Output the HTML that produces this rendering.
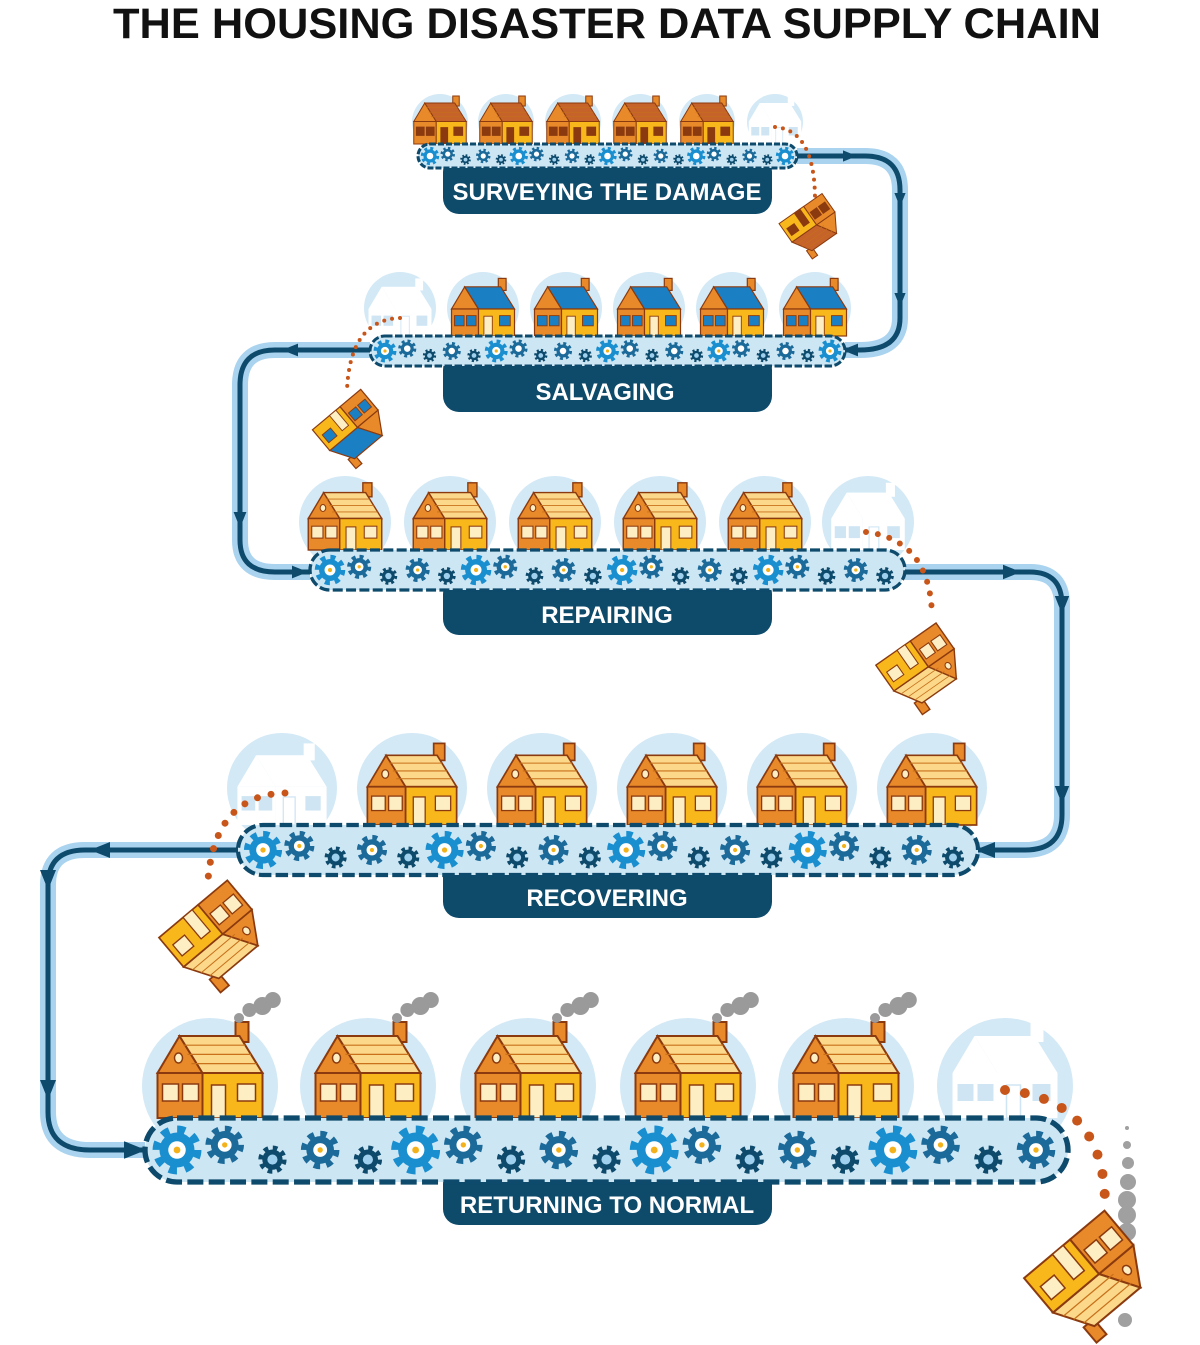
<!DOCTYPE html>
<html><head><meta charset="utf-8">
<style>
html,body{margin:0;padding:0;background:#fff;}
body{width:1200px;height:1345px;overflow:hidden;position:relative;}
svg{position:absolute;left:0;top:0;}
.t{font-family:"Liberation Sans",sans-serif;font-weight:bold;}
</style></head>
<body>
<svg id="s" width="1200" height="1345" viewBox="0 0 1200 1345" xmlns="http://www.w3.org/2000/svg">
<g id="pipes" fill="none"></g>
<g id="circ"></g>
<g id="houses"></g>
<g id="belts"></g>
<g id="dots"></g>
<g id="fall"></g>
<text class="t" x="607" y="38" font-size="43" text-anchor="middle" textLength="988" lengthAdjust="spacingAndGlyphs" fill="#111">THE HOUSING DISASTER DATA SUPPLY CHAIN</text>
<g id="labels"></g>
<g class="t" fill="#fff" text-anchor="middle">
<text x="607" y="200" font-size="24">SURVEYING THE DAMAGE</text>
<text x="605" y="400" font-size="24">SALVAGING</text>
<text x="607" y="623" font-size="24">REPAIRING</text>
<text x="607" y="906" font-size="24">RECOVERING</text>
<text x="607" y="1213" font-size="24">RETURNING TO NORMAL</text>
</g>
</svg>
<script>
const NS="http://www.w3.org/2000/svg";
function el(p,tag,a){const e=document.createElementNS(NS,tag);for(const k in a)e.setAttribute(k,a[k]);document.getElementById(p)?document.getElementById(p).appendChild(e):p.appendChild(e);return e;}
const DK="#0d4a6b",LB="#cde6f4",CB="#d3e9f6";
// pipes
const paths=[
"M797,156 H865 Q900,156 900,190 V318 Q900,350 860,350 H845",
"M370,350 H275 Q240,350 240,385 V540 Q240,572 275,572 H310",
"M905,572 H1030 Q1062,572 1062,605 V815 Q1062,850 1025,850 H978",
"M238,850 H85 Q48,850 48,885 V1112 Q48,1150 90,1150 H145"];
paths.forEach(d=>{el("pipes","path",{d,stroke:"#a9d3ee","stroke-width":16,"stroke-linejoin":"round"});
el("pipes","path",{d,stroke:DK,"stroke-width":5});});
// arrows
function arrow(x,y,ang,sz){const g=el("pipes","g",{transform:`translate(${x},${y}) rotate(${ang})`});el(g,"polygon",{points:`${sz},0 ${-sz},${-sz*0.8} ${-sz},${sz*0.8}`,fill:DK});}
arrow(850,156,0,7);arrow(900,200,90,7);arrow(900,300,90,7);arrow(850,350,180,8);
arrow(290,350,180,8);arrow(240,520,90,8);arrow(300,572,0,8);
arrow(1012,572,0,9);arrow(1062,605,90,9);arrow(1062,795,90,9);arrow(985,850,180,10);
arrow(100,850,180,10);arrow(48,880,90,10);arrow(48,1090,90,10);arrow(135,1150,0,11);
// rows
const rows=[
{bx:418,bw:379,by:144,bh:24,cy:122,r:28,xs:[440,506,573,640,707,775],s:0.5,ghost:5,roof:"#c5632a",type:1,lx:443,lw:329,ly:168,lh:46},
{bx:370,bw:475,by:336,bh:30,cy:308,r:36,xs:[400,483,566,649,732,815],s:0.6,ghost:0,roof:"#1b7fc4",type:2,lx:443,lw:329,ly:366,lh:46},
{bx:310,bw:595,by:550,bh:40,cy:522,r:46,xs:[345,450,555,660,765,868],s:0.7,ghost:5,roof:"#fbd88a",type:3,lx:443,lw:329,ly:590,lh:45},
{bx:238,bw:740,by:825,bh:50,cy:788,r:55,xs:[282,412,542,672,802,932],s:0.85,ghost:0,roof:"#fbd88a",type:3,lx:443,lw:329,ly:872,lh:46},
{bx:145,bw:923,by:1118,bh:64,cy:1086,r:68,xs:[210,368,528,688,846,1005],s:1,ghost:5,roof:"#fbd88a",type:4,lx:443,lw:329,ly:1180,lh:45}];
function house(parent,x,base,s,roof,type,ghost){
 const g=el(parent,"g",{transform:`translate(${x-52.5*s},${base}) scale(${s})`});
 const st=ghost?"none":"#8b3a0f",sw=2;
 const O=ghost?"#fff":"#e8892a",Y=ghost?"#fff":"#f8b81c",R=ghost?"#fff":roof;
 el(g,"rect",{x:78,y:-96,width:13,height:20,fill:ghost?"#fff":"#e8892a",stroke:st,"stroke-width":sw});
 el(g,"polygon",{points:"0,-45 22,-82 45,-45",fill:O,stroke:st,"stroke-width":sw});
 el(g,"polygon",{points:"22,-82 82,-82 105,-45 45,-45",fill:R,stroke:st,"stroke-width":sw});
 if(!ghost&&type!==2)for(let i=1;i<4;i++)el(g,"line",{x1:22+i*4,y1:-82+i*9.2,x2:82+i*5.7,y2:-82+i*9.2,stroke:"#c8701a","stroke-width":1.2});
 el(g,"rect",{x:0,y:-45,width:45,height:45,fill:O,stroke:st,"stroke-width":sw});
 el(g,"rect",{x:45,y:-45,width:60,height:45,fill:Y,stroke:st,"stroke-width":sw});
 const W=ghost?"#cfe5f3":(type===1?"#8b3a0f":type===2?"#1b7fc4":"#fdeec4");
 const ws=[[5,-34,16,17],[25,-34,16,17],[80,-34,18,17]];
 ws.forEach(w=>el(g,"rect",{x:w[0],y:w[1],width:w[2],height:w[3],fill:W,stroke:st,"stroke-width":1.5}));
 if(!ghost||true)el(g,"rect",{x:54,y:-33,width:14,height:33,fill:ghost?"#fff":(type===1?"#8b3a0f":"#fdeec4"),stroke:ghost?"#cfe5f3":st,"stroke-width":1.5});
 if(type>=3&&!ghost)el(g,"ellipse",{cx:21,cy:-60,rx:4,ry:5,fill:"#fdeec4",stroke:st,"stroke-width":1.5});
 return g;
}
function gear(p,x,y,r,c,inner){
 el(p,"circle",{cx:x,cy:y,r:r*0.78,fill:"none",stroke:c,"stroke-width":r*0.45,"stroke-dasharray":`${(2*Math.PI*r*0.78)/16} ${(2*Math.PI*r*0.78)/16}`});
 el(p,"circle",{cx:x,cy:y,r:r*0.72,fill:c});
 el(p,"circle",{cx:x,cy:y,r:r*0.36,fill:inner==="w"?"#fff":"#9fd0ee"});
 if(inner==="w"&&r>10)el(p,"circle",{cx:x,cy:y,r:r*0.14,fill:"#f3b21b"});
}
rows.forEach((R,ri)=>{
 R.xs.forEach((x,i)=>{el("circ","circle",{cx:x,cy:R.cy,r:R.r,fill:CB});
  house("houses",x,R.by,R.s,R.roof,R.type,i===R.ghost);
  if(R.type===4&&i!==R.ghost){const sx=x+52.5*R.s*0.8+5;[[0,-100,5],[8,-108,7],[18,-112,9],[26,-118,8]].forEach(c=>el("houses","circle",{cx:sx-18+c[0]*1.3,cy:R.by+c[1],r:c[2],fill:"#9a9a9a"}));}
 });
 el("belts","rect",{x:R.lx,y:R.ly-12,width:R.lw,height:R.lh+12,rx:16,fill:"#0e4a6a"});
 el("belts","rect",{x:R.bx,y:R.by,width:R.bw,height:R.bh,rx:R.bh/2,fill:LB,stroke:DK,"stroke-width":Math.max(3,R.bh/12),"stroke-dasharray":`${R.bh/4} ${R.bh/12}`});
 const n=Math.round(R.bw/(R.bh*0.75));const step=(R.bw-R.bh)/(n-1);
 for(let k=0;k<n;k++){const gx=R.bx+R.bh/2+k*step;const m=k%5;
  const big=m===0, med=(m===1||m===3), r=R.bh*(big?0.38:med?0.3:0.22);
  const gy=R.by+R.bh/2+(m===2||m===4?R.bh*0.15:m===1?-R.bh*0.08:0);
  gear("belts",gx,gy,r,big?"#1a8fd0":med?"#1b6a99":DK,big||med?"w":"l");}
});
// dotted lines
const dl=[["M775,127 Q815,130 815,200",8],["M400,318 Q350,320 347,390",8],["M866,532 Q930,540 932,615",12],["M285,793 Q215,795 208,880",14],["M1005,1090 Q1105,1100 1105,1205",20]];
dl.forEach(d=>el("dots","path",{d:d[0],fill:"none",stroke:"#c8561a","stroke-width":d[1]*0.5,"stroke-linecap":"round","stroke-dasharray":`0 ${d[1]}`}));
// smoke trail last
[[1127,1128,2],[1127,1145,4],[1128,1163,6],[1128,1182,8],[1127,1200,9],[1127,1215,9],[1127,1232,9],[1125,1320,7]].forEach(c=>el("fall","circle",{cx:c[0],cy:c[1],r:c[2],fill:"#a0a0a0"}));
// falling houses
const fh=[[812,225,0.5,145,"#c5632a",1],[352,428,0.6,140,"#1b7fc4",2],[922,667,0.7,145,"#fbd88a",3],[215,935,0.85,140,"#fbd88a",3],[1090,1275,1,140,"#fbd88a",4]];
fh.forEach(f=>{const g=el("fall","g",{transform:`translate(${f[0]},${f[1]}) rotate(${f[3]})`});const h=house(g,0,40*f[2],f[2],f[4],f[5],false);});
</script>
</body></html>
